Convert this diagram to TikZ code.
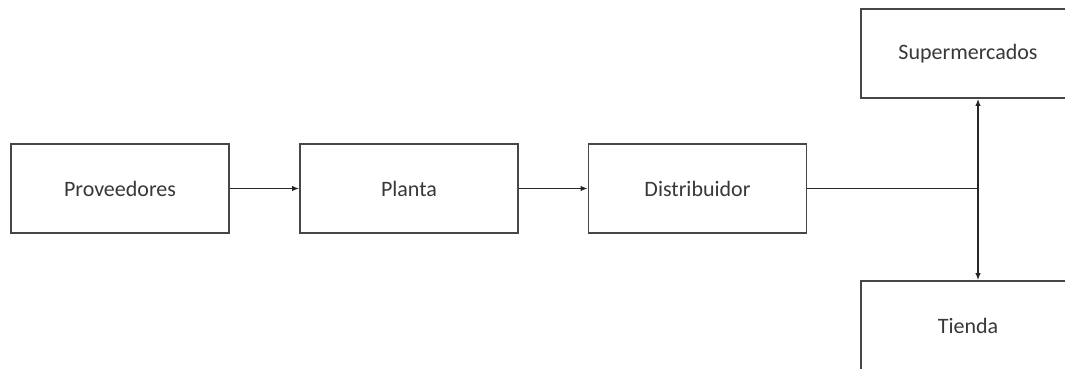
\documentclass[tikz,border=0pt]{standalone}
\usepackage{fontspec}
\setmainfont{Carlito}
\usetikzlibrary{arrows.meta}
\begin{document}
\begin{tikzpicture}[x=1pt,y=-1pt,
  box/.style={draw=black!72,line width=1.8pt,fill=white,rectangle,minimum width=218pt,minimum height=89pt,inner sep=0pt,font=\fontsize{22}{26}\selectfont,text=black!78},
  conn/.style={draw=black!85,line width=1.3pt},
  arr/.style={conn,-{Latex[length=7pt,width=5.5pt]}}]
\useasboundingbox (0,0) rectangle (1065,369);
\clip (0,0) rectangle (1065,369);
\fill[white] (0,0) rectangle (1065,369);
\node[box] (prov) at (120,188.5) {Proveedores};
\node[box] (plan) at (409,188.5) {Planta};
\node[box] (dist) at (697.5,188.5) {Distribuidor};
\node[box,minimum width=214pt] (sup) at (968,53.5) {Supermercados};
\node[box,minimum width=214pt] (tien) at (968,325.5) {Tienda};
\coordinate (j) at (978,188.5);
\draw[arr] (prov.east) -- (plan.west);
\draw[arr] (plan.east) -- (dist.west);
\draw[conn] (dist.east) -- (j);
\draw[arr] (j) -- (j |- sup.south);
\draw[arr] (j) -- (j |- tien.north);
\end{tikzpicture}
\end{document}
